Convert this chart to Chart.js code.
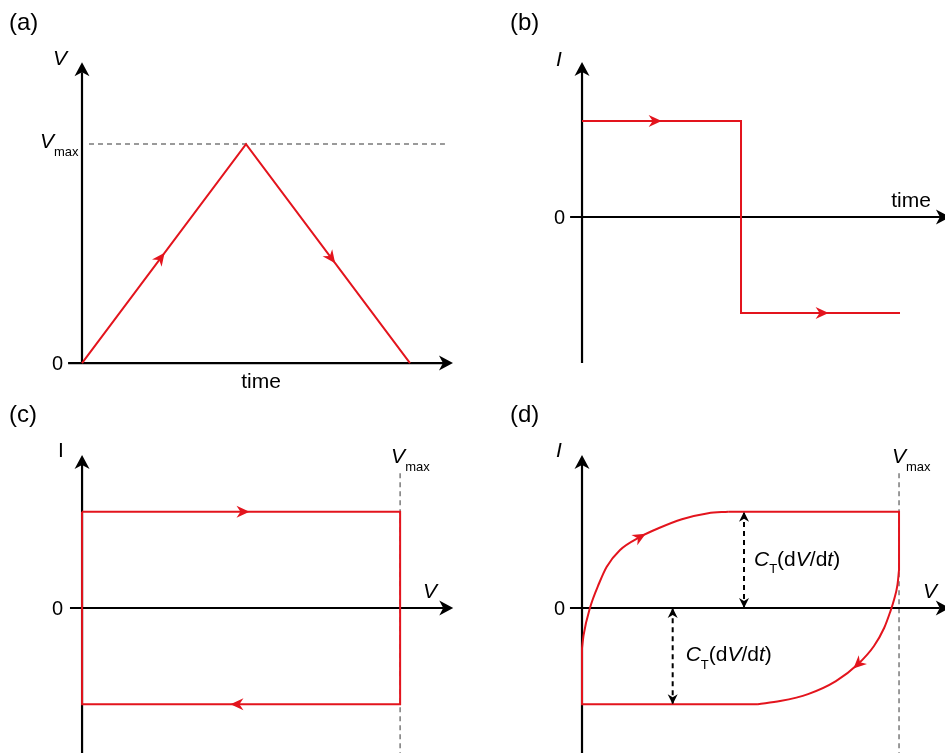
<!DOCTYPE html>
<html>
<head>
<meta charset="utf-8">
<title>Capacitor response to a voltage sweep</title>
<script src="https://cdn.jsdelivr.net/npm/chart.js@4.4.1/dist/chart.umd.min.js"></script>
<style>
  body { margin: 0; background: #fff; }
  #figure { position: relative; width: 945px; height: 753px; overflow: hidden; }
  #figure canvas { position: absolute; }
</style>
</head>
<body>
<div id="figure">
  <canvas id="panelA" width="472" height="390" style="left:0;top:0"></canvas>
  <canvas id="panelB" width="473" height="390" style="left:472px;top:0"></canvas>
  <canvas id="panelC" width="472" height="363" style="left:0;top:390px"></canvas>
  <canvas id="panelD" width="473" height="363" style="left:472px;top:390px"></canvas>
</div>
<script>
// (a) triangular voltage sweep
const timeA = [0, 1, 2];
const voltageA = [0, 1, 0];
const vMax = 1;

// (b) current against time
const timeB = [0, 1, 1, 2];
const currentB = [1, 1, -1, -1];

// (c) ideal capacitor, current against voltage
const voltageC = [0, 1, 1, 0, 0];
const currentC = [1, 1, -1, -1, 1];

// (d) real capacitor: straight parts and the two rounded branches
const voltageDTop = [0.461, 1, 1];
const currentDTop = [1, 1, 0.395];
const voltageDBottom = [0.555, 0, 0];
const currentDBottom = [-1, -1, -0.416];
const voltageDRise = [0, 0.005, 0.025, 0.054, 0.078, 0.120, 0.183, 0.241, 0.315, 0.398, 0.461];
const currentDRise = [-0.416, -0.281, 0, 0.257, 0.429, 0.603, 0.738, 0.828, 0.922, 0.985, 1];
const voltageDFall = [1, 0.995, 0.984, 0.972, 0.953, 0.921, 0.871, 0.801, 0.713, 0.625, 0.555];
const currentDFall = [0.395, 0.239, 0.083, -0.042, -0.208, -0.395, -0.582, -0.759, -0.894, -0.967, -1];
const gapUpperV = 0.511;
const gapLowerV = 0.286;

const RED = '#e3141d';
const INK = '#000';
const GREY = '#7a7a7a';
const FONT = '"Liberation Sans", Arial, sans-serif';
const RED_HEAD = { len: 13, half: 6, notch: 4 };
const GAP_HEAD = { len: 10, half: 5, notch: 3 };
const AXIS_HEAD = { len: 14, half: 7.5, notch: 4 };

const pts = (xs, ys) => xs.map((x, i) => ({ x: x, y: ys[i] }));

function trace(xs, ys, extra) {
    return Object.assign({
        data: pts(xs, ys),
        showLine: true,
        borderColor: RED,
        borderWidth: 2,
        pointRadius: 0,
        tension: 0,
        fill: false,
        clip: false
    }, extra);
}

// filled dart-shaped arrowhead, tip at (x, y) shifted by tipOffset along the heading
function dart(ctx, x, y, angle, color, s, tipOffset) {
    ctx.save();
    ctx.translate(x, y);
    ctx.rotate(angle);
    ctx.translate(tipOffset || 0, 0);
    ctx.beginPath();
    ctx.moveTo(0, 0);
    ctx.lineTo(-s.len, -s.half);
    ctx.lineTo(-s.len + s.notch, 0);
    ctx.lineTo(-s.len, s.half);
    ctx.closePath();
    ctx.fillStyle = color;
    ctx.fill();
    ctx.restore();
}

// position and heading at a fractional point index along a drawn line
function poseAt(points, at) {
    const i = Math.floor(at);
    const t = at - i;
    const p = points[i];
    if (t === 0) {
        let dx = p.cp2x - p.cp1x;
        let dy = p.cp2y - p.cp1y;
        if (!isFinite(dx) || !isFinite(dy) || (!dx && !dy)) {
            const a = points[i - 1] || p;
            const b = points[i + 1] || p;
            dx = b.x - a.x;
            dy = b.y - a.y;
        }
        return { x: p.x, y: p.y, angle: Math.atan2(dy, dx) };
    }
    const q = points[i + 1];
    return { x: p.x + (q.x - p.x) * t, y: p.y + (q.y - p.y) * t, angle: Math.atan2(q.y - p.y, q.x - p.x) };
}

const arrowHeads = {
    id: 'arrowHeads',
    afterDatasetsDraw(chart) {
        const ctx = chart.ctx;
        chart.data.datasets.forEach((ds, di) => {
            const points = chart.getDatasetMeta(di).data;
            const head = ds.head || RED_HEAD;
            (ds.arrowAt || []).forEach(at => {
                const p = poseAt(points, at);
                dart(ctx, p.x, p.y, p.angle, ds.borderColor, head, head.len / 2);
            });
            if (ds.bothEnds) {
                const a = points[0];
                const b = points[points.length - 1];
                dart(ctx, b.x, b.y, Math.atan2(b.y - a.y, b.x - a.x), ds.borderColor, head, 0);
                dart(ctx, a.x, a.y, Math.atan2(a.y - b.y, a.x - b.x), ds.borderColor, head, 0);
            }
        });
    }
};

function axis(ctx, x1, y1, x2, y2) {
    const angle = Math.atan2(y2 - y1, x2 - x1);
    const back = AXIS_HEAD.len - AXIS_HEAD.notch;
    ctx.save();
    ctx.strokeStyle = INK;
    ctx.lineWidth = 2.2;
    ctx.beginPath();
    ctx.moveTo(x1, y1);
    ctx.lineTo(x2 - Math.cos(angle) * back, y2 - Math.sin(angle) * back);
    ctx.stroke();
    ctx.restore();
    dart(ctx, x2, y2, angle, INK, AXIS_HEAD, 0);
}

function dashed(ctx, x1, y1, x2, y2) {
    ctx.save();
    ctx.strokeStyle = GREY;
    ctx.lineWidth = 1.5;
    ctx.setLineDash([5, 4]);
    ctx.beginPath();
    ctx.moveTo(x1, y1);
    ctx.lineTo(x2, y2);
    ctx.stroke();
    ctx.restore();
}

// text made of runs: '' upright, 'i' italic, 's' subscript
function write(ctx, x, y, parts, size, align) {
    ctx.save();
    ctx.fillStyle = INK;
    ctx.textBaseline = 'alphabetic';
    const fontFor = st => (st === 'i' ? 'italic ' : '') + (st === 's' ? Math.round(size * 0.6) : size) + 'px ' + FONT;
    let width = 0;
    parts.forEach(([txt, st]) => { ctx.font = fontFor(st); width += ctx.measureText(txt).width; });
    if (align === 'center') x -= width / 2;
    if (align === 'right') x -= width;
    parts.forEach(([txt, st]) => {
        ctx.font = fontFor(st);
        ctx.fillText(txt, x, st === 's' ? y + size * 0.36 : y);
        x += ctx.measureText(txt).width;
    });
    ctx.restore();
}

function zeroLabel(ctx, x, y) {
    ctx.save();
    ctx.font = '20px ' + FONT;
    ctx.fillStyle = INK;
    ctx.textAlign = 'right';
    ctx.textBaseline = 'middle';
    ctx.fillText('0', x, y + 1);
    ctx.restore();
}

const VMAX = [['V', 'i'], ['max', 's']];
const CT = [['C', 'i'], ['T', 's'], ['(d', ''], ['V', 'i'], ['/d', ''], ['t', 'i'], [')', '']];

function panel(id, datasets, xRange, yRange, under, over) {
    return new Chart(document.getElementById(id), {
        type: 'scatter',
        data: { datasets: datasets },
        options: {
            responsive: false,
            animation: false,
            devicePixelRatio: 1,
            events: [],
            layout: { padding: 0 },
            plugins: { legend: { display: false }, tooltip: { enabled: false } },
            scales: {
                x: { type: 'linear', display: false, min: xRange[0], max: xRange[1] },
                y: { type: 'linear', display: false, min: yRange[0], max: yRange[1] }
            }
        },
        plugins: [arrowHeads, {
            id: 'frame',
            beforeDatasetsDraw(chart) { under(chart.ctx, v => chart.scales.x.getPixelForValue(v), v => chart.scales.y.getPixelForValue(v)); },
            afterDraw(chart) { over(chart.ctx, v => chart.scales.x.getPixelForValue(v), v => chart.scales.y.getPixelForValue(v)); }
        }]
    });
}

// (a)
panel('panelA',
    [trace(timeA, voltageA, { arrowAt: [0.48, 1.52] })],
    [-0.5, 2.378], [-0.123, 1.658],
    (ctx, X, Y) => {
        dashed(ctx, X(0) + 7, Y(vMax), X(2.213), Y(vMax));
        axis(ctx, X(0), Y(0), X(0), Y(1.374));
        axis(ctx, X(-0.085), Y(0), X(2.262), Y(0));
    },
    (ctx, X, Y) => {
        write(ctx, 9, 30, [['(a)', '']], 24);
        write(ctx, X(0) - 29, Y(1.374) + 3, [['V', 'i']], 21);
        write(ctx, X(0) - 42, Y(vMax) + 4, VMAX, 21);
        zeroLabel(ctx, X(0) - 19, Y(0));
        write(ctx, X(1) + 15, Y(0) + 25, [['time', '']], 21, 'center');
    });

// (b)
panel('panelB',
    [trace(timeB, currentB, { arrowAt: [0.46, 2.51] })],
    [-0.692, 2.283], [-1.802, 2.26],
    (ctx, X, Y) => {
        axis(ctx, X(0), Y(-1.521), X(0), Y(1.615));
        axis(ctx, X(-0.075), Y(0), X(2.314), Y(0));
    },
    (ctx, X, Y) => {
        write(ctx, 38, 30, [['(b)', '']], 24);
        write(ctx, X(0) - 26, Y(1.615) + 4, [['I', 'i']], 21);
        zeroLabel(ctx, X(0) - 17, Y(0));
        write(ctx, X(2) + 11, Y(0) - 10, [['time', '']], 21, 'center');
    });

// (c)
panel('panelC',
    [trace(voltageC, currentC, { arrowAt: [0.506, 2.513] })],
    [-0.258, 1.226], [-1.506, 2.264],
    (ctx, X, Y) => {
        dashed(ctx, X(vMax), Y(1.40), X(vMax), Y(-1.506));
        axis(ctx, X(0), Y(-1.506), X(0), Y(1.589));
        axis(ctx, X(-0.038), Y(0), X(1.167), Y(0));
    },
    (ctx, X, Y) => {
        write(ctx, 9, 32, [['(c)', '']], 24);
        write(ctx, X(0) - 24, Y(1.589) + 2, [['I', '']], 21);
        zeroLabel(ctx, X(0) - 19, Y(0));
        write(ctx, X(vMax) + 23, Y(0) - 10, [['V', 'i']], 21);
        write(ctx, X(vMax) - 9, Y(1.40) - 10, VMAX, 21);
    });

// (d)
panel('panelD',
    [
        trace(voltageDRise, currentDRise, { cubicInterpolationMode: 'monotone', arrowAt: [6] }),
        trace(voltageDTop, currentDTop),
        trace(voltageDFall, currentDFall, { cubicInterpolationMode: 'monotone', arrowAt: [6] }),
        trace(voltageDBottom, currentDBottom),
        trace([gapUpperV, gapUpperV], [0, 1], { borderColor: INK, borderDash: [5, 4], head: GAP_HEAD, bothEnds: true }),
        trace([gapLowerV, gapLowerV], [-1, 0], { borderColor: INK, borderDash: [5, 4], head: GAP_HEAD, bothEnds: true })
    ],
    [-0.347, 1.145], [-1.506, 2.264],
    (ctx, X, Y) => {
        dashed(ctx, X(vMax), Y(1.40), X(vMax), Y(-1.506));
        axis(ctx, X(0), Y(-1.506), X(0), Y(1.589));
        axis(ctx, X(-0.038), Y(0), X(1.16), Y(0));
    },
    (ctx, X, Y) => {
        write(ctx, 38, 32, [['(d)', '']], 24);
        write(ctx, X(0) - 26, Y(1.589) + 2, [['I', 'i']], 21);
        zeroLabel(ctx, X(0) - 17, Y(0));
        write(ctx, X(vMax) + 24, Y(0) - 10, [['V', 'i']], 21);
        write(ctx, X(vMax) - 7, Y(1.40) - 10, VMAX, 21);
        write(ctx, X(gapUpperV) + 10, Y(0.5) + 6, CT, 21);
        write(ctx, X(gapLowerV) + 13, Y(-0.5) + 5, CT, 21);
    });
</script>
</body>
</html>
